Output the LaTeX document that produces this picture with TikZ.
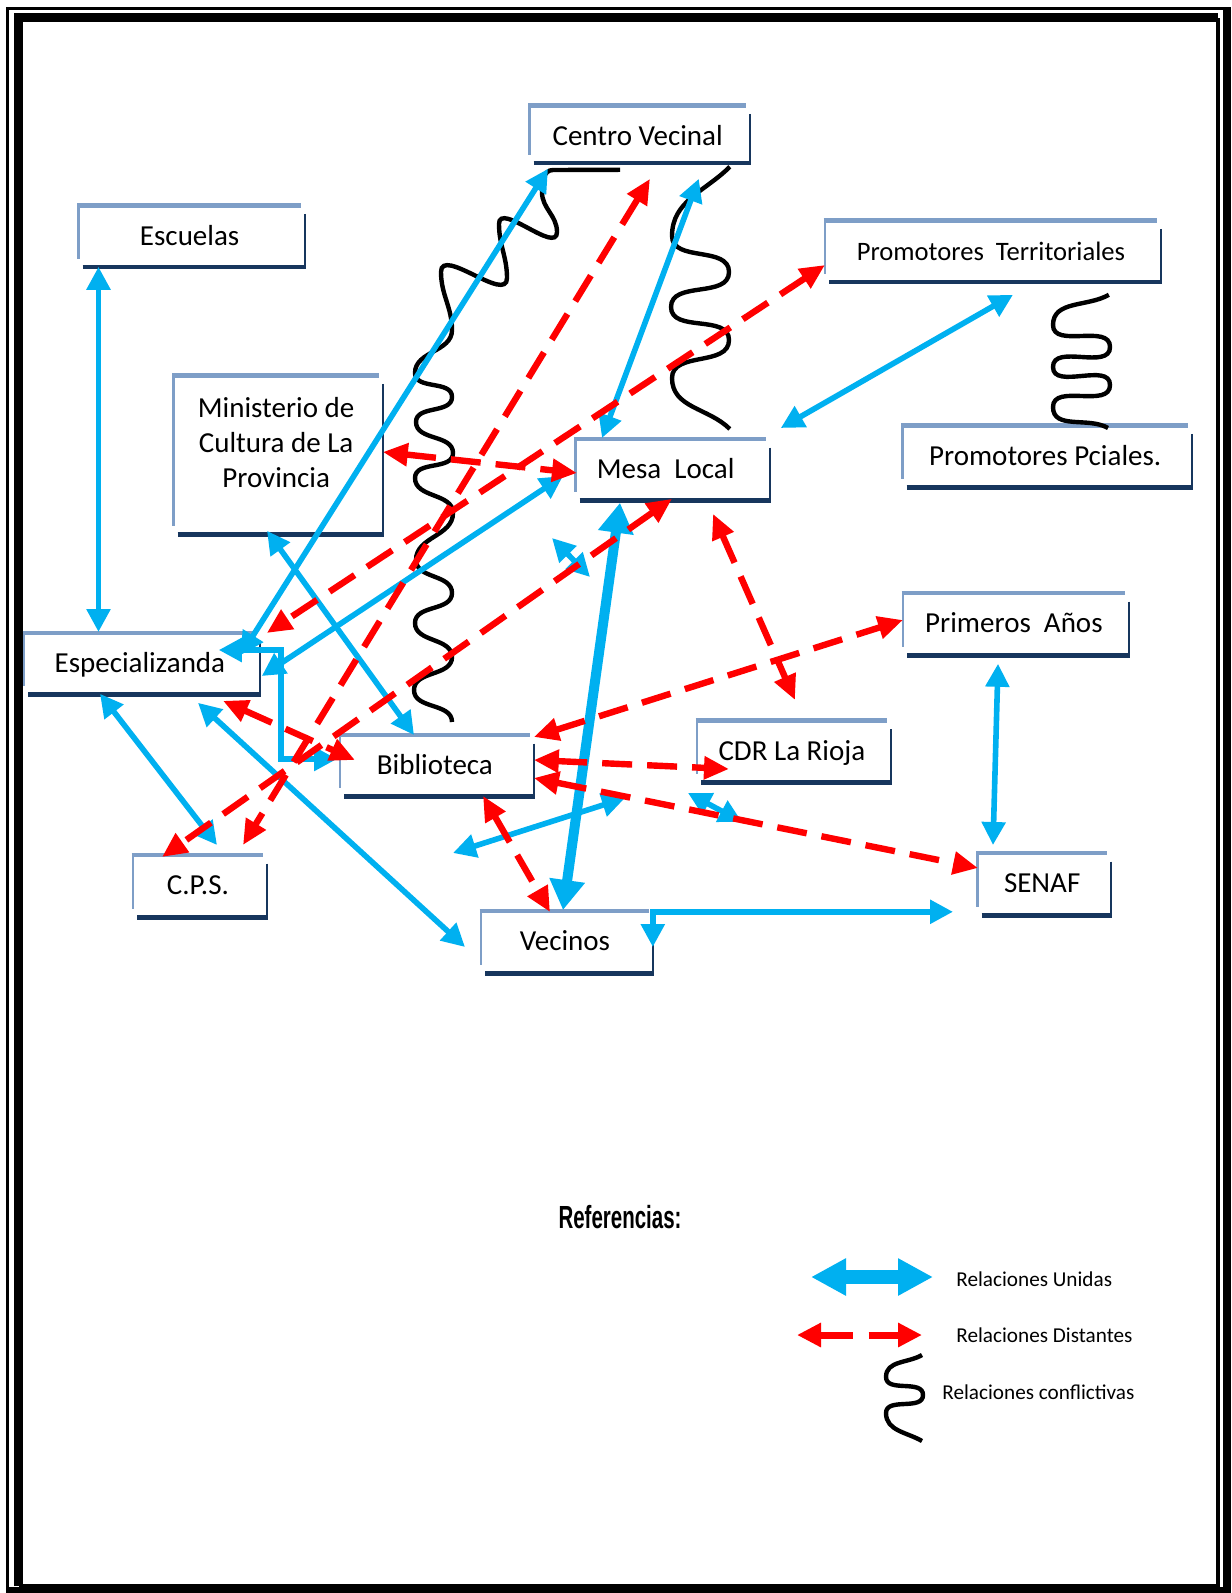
\documentclass[tikz,border=0pt]{standalone}
\usepackage{fontspec}
\setmainfont{Carlito}
\newfontfamily\titlefont{Liberation Sans}
\usetikzlibrary{arrows.meta}
\definecolor{celeste}{RGB}{0,176,240}
\definecolor{claro}{RGB}{126,158,199}
\definecolor{oscuro}{RGB}{23,54,93}

\begin{document}
\begin{tikzpicture}[
    x=0.5pt, y=-0.5pt,
    box/.style={inner sep=0pt, anchor=north west, minimum height=26.25pt, font=\fontsize{14.5}{17.5}\selectfont, text height=13pt, text depth=0pt},
    union/.style={draw=celeste, line width=2.8pt, {Triangle[length=11.5pt,width=11.5pt]}-{Triangle[length=11.5pt,width=11.5pt]}},
    distant/.style={draw=red, line width=3.2pt, dash pattern=on 15pt off 7.5pt, {Triangle[length=12.5pt,width=11pt]}-{Triangle[length=12.5pt,width=11pt]}},
    conflict/.style={draw=black, line width=2.2pt, every to/.style={out=270, in=90}},
    legend/.style={anchor=west, inner sep=0pt, font=\fontsize{10.6}{12}\selectfont}
]
\useasboundingbox (0,0) rectangle (1231,1593);

% page border
\draw[line width=1.5pt] (7.5,1593) -- (7.5,8.5) -- (1231,8.5);
\draw[line width=4.5pt] (18.5,1586) -- (18.5,18) -- (1218,18);
\draw[line width=2pt] (18.5,1586) -- (1218,1586) -- (1218,18);
\draw[line width=4pt] (7.5,1591) -- (1227,1591) -- (1227,8.5);

% actores
\node[box, minimum width=107.75pt, minimum height=24.25pt, text height=15pt] (centro) at (529.5,105.5) {Centro Vecinal};
\node[box, minimum width=110.75pt] (escuelas) at (78.5,205.5) {Escuelas};
\node[box, minimum width=165.5pt, font=\fontsize{13.3}{16}\selectfont] (promterr) at (825,220.5) {Promotores\ \ Territoriales};
\node[box, minimum width=102.25pt, minimum height=74.75pt, align=center, text height={}, text depth=8pt] (ministerio) at (173.5,375.5) {Ministerio de\\Cultura de La\\Provincia};
\node[box, minimum width=94.75pt, minimum height=26pt] (mesa) at (575.5,439) {Mesa\ \ Local\kern5pt};
\node[box, minimum width=142.25pt] (promprov) at (902.5,425.5) {Promotores Pciales.};
\node[box, minimum width=115.5pt, minimum height=26pt] (especial) at (24,633) {Especializanda};
\node[box, minimum width=110.5pt, minimum height=26.5pt] (primeros) at (903,593) {Primeros\ \ Años};
\node[box, minimum width=94.5pt, minimum height=26pt] (biblio) at (340,735) {Biblioteca};
\node[box, minimum width=94.5pt] (cdr) at (697,720.5) {CDR La Rioja};
\node[box, minimum width=64.5pt, minimum height=26.5pt] (cps) at (133,855) {C.P.S.};
\node[box, minimum width=64.25pt, minimum height=26.5pt] (senaf) at (977.5,853) {SENAF};
\node[box, minimum width=83.5pt, minimum height=26.5pt] (vecinos) at (481,911) {Vecinos};

\foreach \n in {centro,escuelas,promterr,ministerio,mesa,promprov,especial,primeros,biblio,cdr,cps,senaf,vecinos}{
  \draw[claro, line width=1.4pt] (\n.south west) -- (\n.north west);
  \draw[claro, line width=2.4pt] ([xshift=-0.7pt]\n.north west) -- (\n.north east);
  \draw[oscuro, line width=1.3pt] ([shift={(4,8.5)}]\n.north east) -- ([shift={(4,8.5)}]\n.south east);
  \draw[oscuro, line width=2.2pt] ([shift={(4,8.5)}]\n.south west) -- ([shift={(5.3,8.5)}]\n.south east);
}

% relaciones conflictivas
\draw[conflict] ([shift={(90.5,15)}]centro.south west) -- (553,170) to[out=180,in=90] (542,192) to (557,232) to (499,224) to (507,278) to (441,272) to (452,330) to (415,373) to (452,397) to (416,422) to (453,453) to (415,478) to (453,513) to (416,560) to (452,593) to (415,623) to (452,657) to (414,690) to ([shift={(112,-13)}]biblio.north west);
\draw[conflict] ([shift={(-16,12)}]centro.south east) to[out=225,in=90] (672,236) to (729,272) to (671,307) to (729,340) to (672,378) to[out=270,in=135] ([shift={(-36,-10)}]mesa.north east);
\draw[conflict] ([shift={(-48,21)}]promterr.south east) to[out=210,in=90] (1053,325) to (1110,347) to (1053,367) to (1110,385) to (1053,407) to[out=270,in=150] ([shift={(205.5,2.5)}]promprov.north west);

% relaciones unidas
\draw[union] ([shift={(20,8)}]escuelas.south west) -- ([shift={(74.5,-1)}]especial.north west);
\draw[union] ([shift={(18.5,14)}]centro.south west) -- ([shift={(-15,22)}]especial.north east);
\draw[union] ([shift={(6,43)}]especial.north east) -- ([shift={(-12.5,37)}]mesa.north west);
\draw[union] ([shift={(-37,17)}]especial.north east) -- ++(62,0) |- ([shift={(-3,24)}]biblio.north west);
\draw[union] ([shift={(93.5,5)}]ministerio.south west) -- ([shift={(74,0)}]biblio.north west);
\draw[union] ([shift={(76,8)}]especial.south west) -- ([shift={(84,-10)}]cps.north west);
\draw[union] ([shift={(174,17)}]especial.south west) -- ([shift={(-16,36)}]vecinos.north west);
\draw[union, line width=5pt, {Triangle[length=15pt,width=17pt]}-{Triangle[length=15pt,width=17pt]}] ([shift={(44.5,11)}]mesa.south west) -- ([shift={(82,-1)}]vecinos.north west);
\draw[union] ([shift={(-24.5,5)}]senaf.south west) -| ([shift={(4,36)}]vecinos.north east);
\draw[union] ([shift={(15,-11)}]mesa.north east) -- ([shift={(188,21)}]promterr.south west);
\draw[union] ([shift={(-47,24)}]centro.south east) -- ([shift={(26.5,-1)}]mesa.north west);
\draw[union] ([shift={(95,17)}]primeros.south west) -- ([shift={(15.5,-8)}]senaf.north west);
\coordinate (u1) at (552,538);
\coordinate (u2) at (590,577);
\coordinate (u3) at (688,793);
\coordinate (u4) at (742,822);
\coordinate (u5) at (453,853);
\coordinate (u6) at (625,798);
\draw[union] (u1) -- (u2);
\draw[union] (u3) -- (u4);
\draw[union] (u5) -- (u6);

% relaciones distantes
\draw[distant] ([shift={(4,76.5)}]ministerio.north east) -- ([shift={(1.5,34)}]mesa.north west);
\draw[distant] ([shift={(96.5,7)}]mesa.south west) -- ([shift={(29,2)}]cps.north west);
\draw[distant] ([shift={(120.5,24)}]centro.south west) -- ([shift={(110,-10)}]cps.north west);
\draw[distant] ([shift={(0,44.5)}]promterr.north west) -- ([shift={(11,0)}]especial.north east);
\draw[distant] ([shift={(4,2)}]biblio.north east) -- ([shift={(0,27)}]primeros.north west);
\draw[distant] ([shift={(4,25)}]biblio.north east) -- ([shift={(32,48.5)}]cdr.north west);
\draw[distant] ([shift={(4,43)}]biblio.north east) -- ([shift={(0.5,15)}]senaf.north west);
\draw[distant] ([shift={(137.5,22)}]mesa.south west) -- ([shift={(98,-20.5)}]cdr.north west);
\draw[distant] ([shift={(143,8)}]biblio.south west) -- ([shift={(69,1)}]vecinos.north west);
\draw[distant] ([shift={(199,15)}]especial.south west) -- ([shift={(15,25)}]biblio.north west);

% referencias
\node[font=\titlefont\bfseries] (ref) at (620,1217) {\scalebox{0.64}[1]{\fontsize{16}{16}\selectfont Referencias:}};
\coordinate (lu1) at (811,1277);
\coordinate (lu2) at (933,1277);
\coordinate (ld1) at (797,1335);
\coordinate (ld2) at (922,1335);
\draw[union, line width=7pt, {Triangle[length=17.5pt,width=17.5pt]}-{Triangle[length=17.5pt,width=17.5pt]}] (lu1) -- (lu2);
\draw[distant, line width=3.5pt, dash pattern=on 16.5pt off 8pt, {Triangle[length=12pt,width=11.5pt]}-{Triangle[length=12pt,width=11.5pt]}] (ld1) -- (ld2);
\draw[conflict] (922,1355) to[out=210,in=90] (886,1377) to (923,1395) to (886,1413) to[out=270,in=150] (922,1441);
\node[legend] (lunida) at (956,1279) {Relaciones Unidas};
\node[legend] (ldistante) at (956,1335) {Relaciones Distantes};
\node[legend] (lconflicto) at (942,1392) {Relaciones conflictivas};
\end{tikzpicture}
\end{document}
